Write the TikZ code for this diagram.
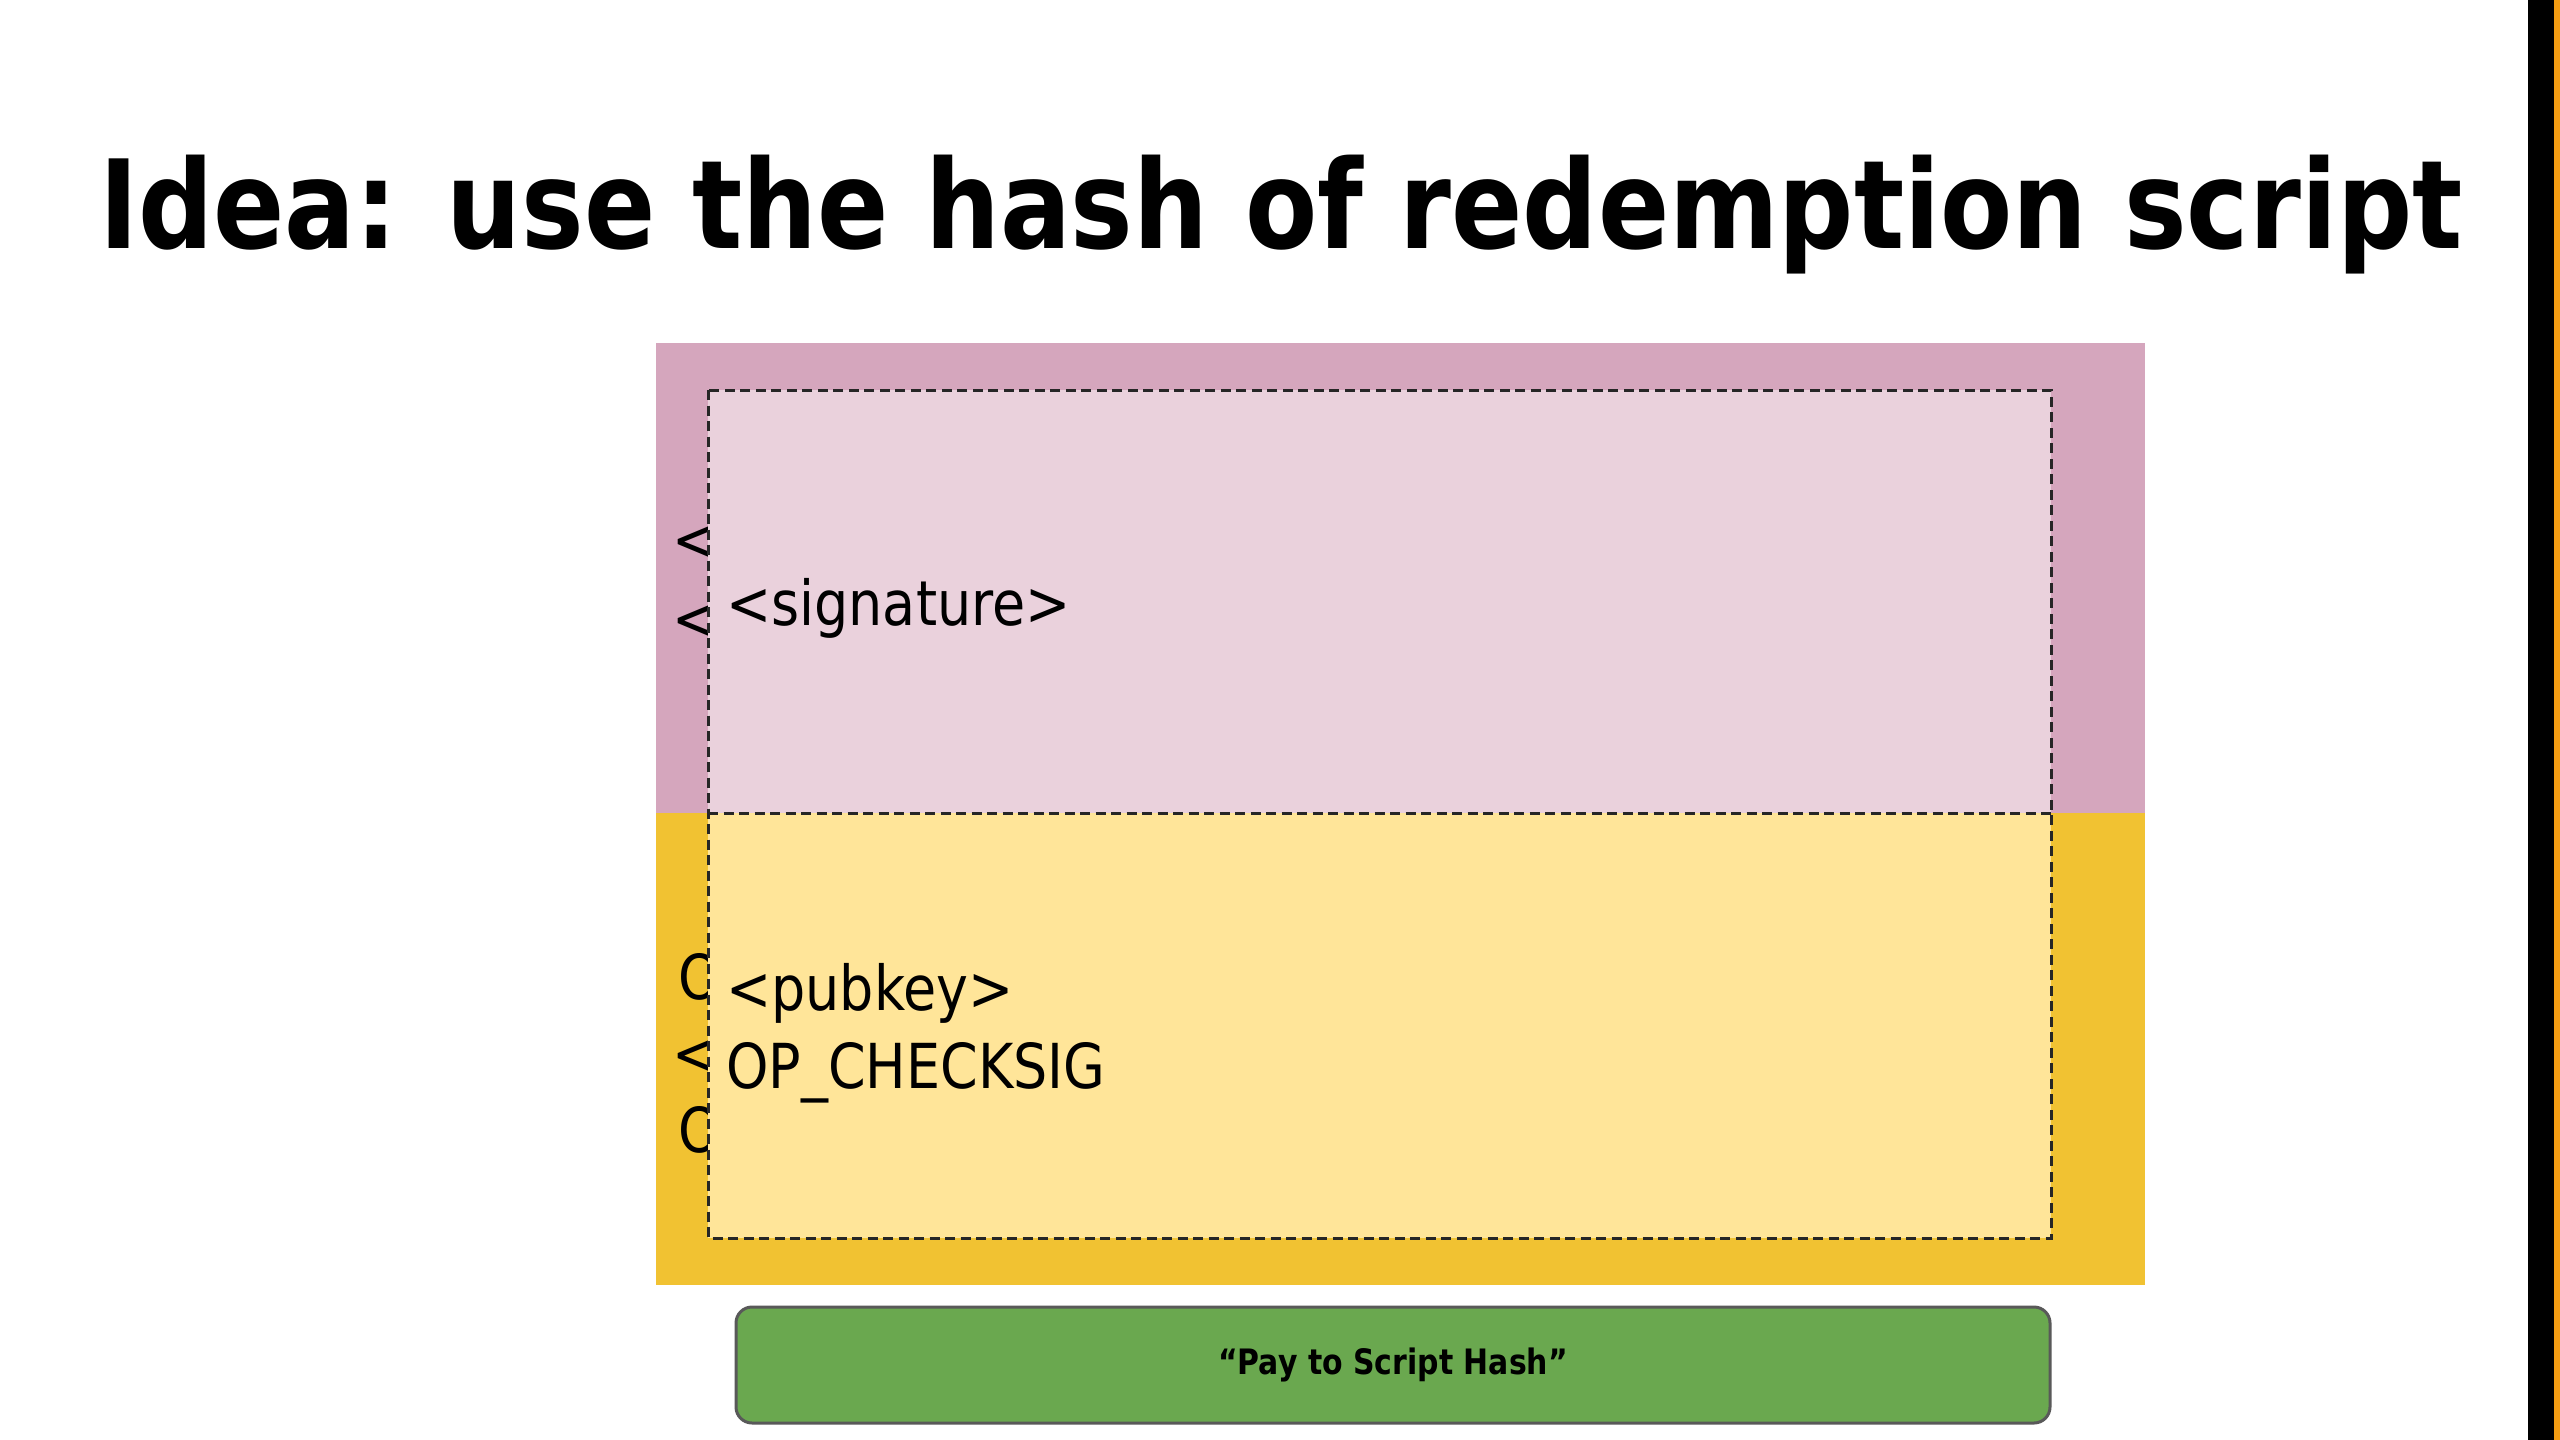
\documentclass[tikz,border=0pt]{standalone}
\usepackage{fontspec}
\newfontfamily\slidefont[FakeStretch=0.855]{DejaVu Sans}
\newfontfamily\bodyfont[FakeStretch=0.87]{DejaVu Sans}
\definecolor{pinkout}{HTML}{D5A6BD}
\definecolor{pinkin}{HTML}{EAD1DC}
\definecolor{yelout}{HTML}{F1C232}
\definecolor{yelin}{HTML}{FFE599}
\definecolor{greenbox}{HTML}{6AA84F}
\definecolor{greenedge}{HTML}{595959}
\definecolor{dashcol}{HTML}{262626}
\definecolor{barorange}{HTML}{F39C12}
\tikzset{
  bodytext/.style={inner sep=0pt, anchor=base west, font=\bodyfont\fontsize{62}{74}\selectfont},
  dashbox/.style={draw=dashcol, line width=3pt, dash pattern=on 10pt off 5.5pt},
}
\begin{document}
\begin{tikzpicture}[x=1pt,y=-1pt]
\useasboundingbox (0,0) rectangle (2560,1440);
\fill[white] (0,0) rectangle (2560,1440);
% right bar
\fill[black] (2528,0) rectangle (2554,1440);
\fill[barorange] (2554,0) rectangle (2560,1440);
% title
\node[inner sep=0pt, anchor=base, font=\slidefont\bfseries\fontsize{123}{140}\selectfont] (title) at (1281,248) {Idea: use the hash of redemption script};
% outer blocks
\fill[pinkout] (656,343) rectangle (2145,813);
\fill[yelout] (656,813) rectangle (2145,1285);
% partially hidden text behind the inner boxes
\node[bodytext] (h1) at (672,561) {<};
\node[bodytext] (h2) at (672,640) {<};
\node[bodytext] (h3) at (678,999) {O};
\node[bodytext] (h4) at (672,1075) {<};
\node[bodytext] (h5) at (678,1152) {O};
% inner dashed boxes
\fill[pinkin] (708,390) rectangle (2051,813);
\fill[yelin] (708,813) rectangle (2051,1238);
\draw[dashbox] (708,390) rectangle (2051,1238);
\coordinate (midL) at (708,813);
\coordinate (midR) at (2051,813);
\draw[dashbox] (midL) -- (midR);
% visible texts
\node[bodytext] (sig) at (726,625) {<signature>};
\node[bodytext] (pub) at (726,1010) {<pubkey>};
\node[bodytext] (chk) at (726,1088) {OP\_CHECKSIG};
% green box
\node[draw=greenedge, line width=3pt, fill=greenbox, rounded corners=16pt,
      minimum width=1314pt, minimum height=116pt, inner sep=0pt,
      font=\slidefont\bfseries\fontsize{35}{42}\selectfont] (p2sh) at (1393,1365) {“Pay to Script Hash”};
\end{tikzpicture}
\end{document}
